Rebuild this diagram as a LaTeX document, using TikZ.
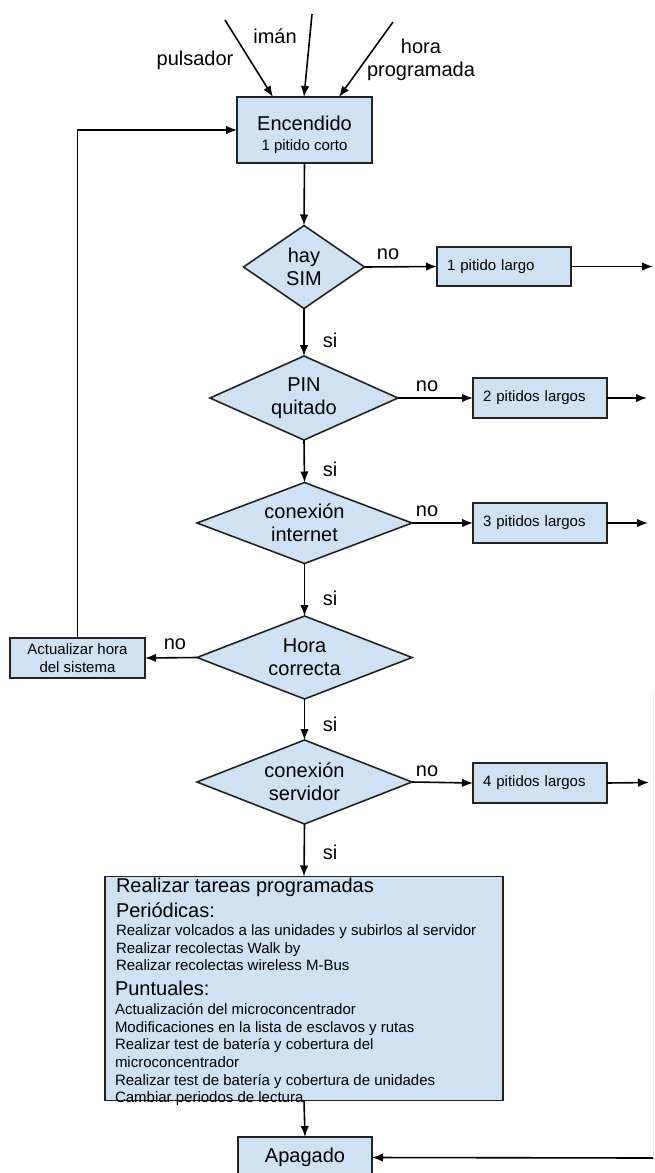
\documentclass[tikz,border=0pt]{standalone}
\usepackage{fontspec}
\setmainfont{Liberation Sans}
\usetikzlibrary{shapes.geometric,arrows.meta,calc}
\definecolor{boxblue}{RGB}{207,226,243}
\definecolor{edge}{RGB}{35,35,35}
\definecolor{faint}{RGB}{236,236,236}
\newcommand{\fbig}{\fontsize{20}{23}\selectfont}
\newcommand{\fsmall}{\fontsize{15}{18}\selectfont}
\begin{document}
\begin{tikzpicture}[x=1pt,y=-1pt,
  every node/.style={inner sep=0pt, outer sep=0pt},
  box/.style={draw=edge, fill=boxblue, line width=1.6pt, rectangle, align=center},
  sbox/.style={box, font=\fsmall, minimum width=134pt, minimum height=39pt, inner xsep=10pt, text width=114pt, align=left},
  dia/.style={draw=edge, fill=boxblue, line width=1.6pt, diamond, align=center, font=\fbig},
  arr/.style={draw=black, line width=1.6pt, -{Latex[length=11pt,width=8.5pt]}},
  lbl/.style={font=\fbig, align=center},
  big/.style={font=\fbig, anchor=base west},
  sm/.style={font=\fsmall, anchor=base west}
]
\useasboundingbox (0,0) rectangle (655,1173);

% main column
\node[box, font=\fbig, minimum width=135pt, minimum height=66pt] (enc) at (304.5,130) {\rule{0pt}{24pt}Encendido\\[-2.5pt]{\fsmall 1 pitido corto}};
\node[dia, minimum width=121pt, minimum height=83pt, aspect=1.46] (sim) at (304,267) {hay\\SIM};
\node[dia, minimum width=188pt, minimum height=84pt, aspect=2.24] (pin) at (304,398) {PIN\\quitado};
\node[dia, minimum width=215pt, minimum height=81pt, aspect=2.65] (inet) at (304.5,523) {conexión\\internet};
\node[dia, minimum width=215pt, minimum height=83pt, aspect=2.6] (hora) at (304.5,657.5) {Hora\\correcta};
\node[dia, minimum width=215pt, minimum height=84pt, aspect=2.56] (serv) at (304.5,782) {conexión\\servidor};
\node[box, minimum width=398pt, minimum height=224pt] (tasks) at (304,988.5) {};
\node[box, font=\fbig, minimum width=134pt, minimum height=41pt] (apag) at (305,1157.5) {Apagado};

% side boxes
\node[sbox] (b1) at (504,266.5) {1 pitido largo};
\node[sbox, minimum height=40pt] (b2) at (540,398) {2 pitidos largos};
\node[sbox, minimum height=40pt] (b3) at (540,523) {3 pitidos largos};
\node[sbox, minimum height=40pt] (b4) at (540,783) {4 pitidos largos};
\node[box, font=\fsmall, minimum width=135pt, minimum height=40pt] (act) at (77.5,658) {Actualizar hora\\del sistema};

% inputs
\coordinate (p1) at (225,20);
\coordinate (p2) at (312,14);
\coordinate (p3) at (393,22);
\draw[arr] (p1) -- ($(enc.north)+(-31.5,0)$);
\draw[arr] (p2) -- ($(enc.north)+(-0.5,0)$);
\draw[arr] (p3) -- ($(enc.north)+(34.5,0)$);
\node[lbl] (liman) at (275,36) {imán};
\node[lbl] (lpuls) at (195,60) {pulsador};
\node[lbl] (lhora) at (421,60) {hora\\programada};

% main flow
\draw[arr] (enc.south) -- (sim.north);
\draw[arr] (sim.south) -- (pin.north);
\draw[arr] (pin.south) -- (inet.north);
\draw[arr] (inet.south) -- (hora.north);
\draw[arr] (hora.south) -- (serv.north);
\draw[arr] (serv.south) -- (tasks.north);
\draw[arr] (tasks.south) -- (apag.north);

\node[lbl] (si1) at (330,340) {si};
\node[lbl] (si2) at (330,469) {si};
\node[lbl] (si3) at (330,598) {si};
\node[lbl] (si4) at (330,724) {si};
\node[lbl] (si5) at (330,852) {si};

% no branches
\draw[arr] (sim.east) -- (b1.west);
\draw[arr] (pin.east) -- (b2.west);
\draw[arr] (inet.east) -- (b3.west);
\draw[arr] (serv.east) -- (b4.west);
\draw[arr] (hora.west) -- (act.east);
\node[lbl] (no1) at (388,254) {no};
\node[lbl] (no2) at (427,386) {no};
\node[lbl] (no3) at (427,511) {no};
\node[lbl] (no4) at (427,771) {no};
\node[lbl] (no5) at (175,644) {no};

\coordinate (e1) at (653,266.5);
\coordinate (e2) at (647,398);
\coordinate (e3) at (648,523);
\coordinate (e4) at (649,782.5);
\draw[arr] (b1.east) -- (e1);
\draw[arr] (b2.east) -- (e2);
\draw[arr] (b3.east) -- (e3);
\draw[arr] (b4.east) -- (e4);

\draw[arr] (act.north) |- (enc.west);

% return to Apagado
\coordinate (f0) at (653,690);
\coordinate (e5) at (653,1158);
\draw[faint, line width=1pt] (f0) -- (e5);
\draw[arr] (e5) -- (apag.east);

% task text
\node[big] (t1) at (116,892) {Realizar tareas programadas};
\node[big] (t2) at (116,917) {Periódicas:};
\node[sm] (t3) at (116,935.5) {Realizar volcados a las unidades y subirlos al servidor};
\node[sm] (t4) at (116,953) {Realizar recolectas Walk by};
\node[sm] (t5) at (116,970.5) {Realizar recolectas wireless M-Bus};
\node[big] (t6) at (115,995) {Puntuales:};
\node[sm] (t7) at (115,1014.5) {Actualización del microconcentrador};
\node[sm] (t8) at (115,1032) {Modificaciones en la lista de esclavos y rutas};
\node[sm] (t9) at (115,1049.5) {Realizar test de batería y cobertura del};
\node[sm] (t10) at (115,1067) {microconcentrador};
\node[sm] (t11) at (115,1085) {Realizar test de batería y cobertura de unidades};
\node[sm] (t12) at (115,1102.5) {Cambiar periodos de lectura};
\end{tikzpicture}
\end{document}
